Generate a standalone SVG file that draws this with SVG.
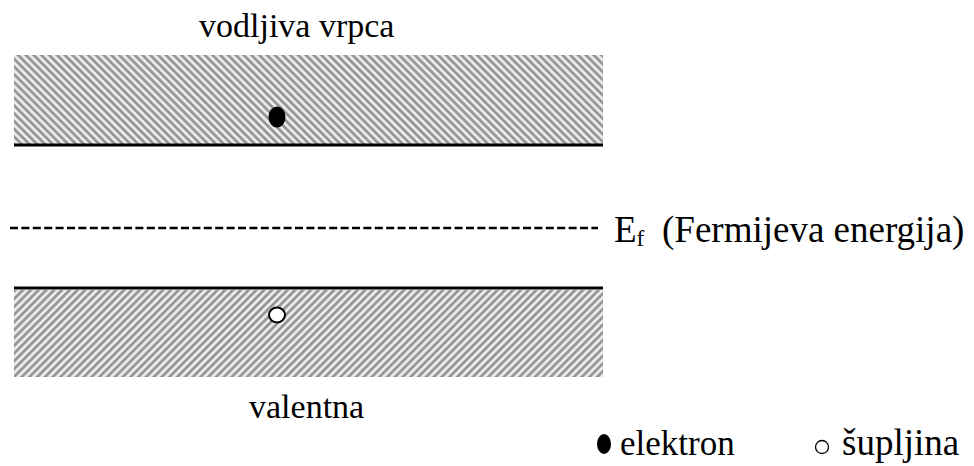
<svg xmlns="http://www.w3.org/2000/svg" width="974" height="466" viewBox="0 0 974 466">
<style>
.t{font-family:"Liberation Serif","Times New Roman",serif;font-size:34px;fill:#000}
.big{font-size:37px}
.sub{font-size:23px}
.edge{stroke:#000;stroke-width:3;fill:none}
</style>
<defs>
<pattern id="hatchA" patternUnits="userSpaceOnUse" width="5.5" height="10" patternTransform="rotate(-45)">
<rect width="5.5" height="10" fill="#eaeaea"/>
<rect width="2.7" height="10" fill="#959595"/>
</pattern>
<pattern id="hatchB" patternUnits="userSpaceOnUse" width="5.5" height="10" patternTransform="rotate(45)">
<rect width="5.5" height="10" fill="#eaeaea"/>
<rect width="2.7" height="10" fill="#959595"/>
</pattern>
</defs>
<g id="conduction-band">
<rect x="14" y="55" width="589" height="90" fill="url(#hatchA)"/>
<line class="edge" x1="14" y1="145" x2="603" y2="145"/>
<text class="t" x="199" y="37">vodljiva vrpca</text>
</g>
<g id="electron">
<ellipse cx="277" cy="117" rx="8.5" ry="10.5" fill="#000"/>
</g>
<g id="valence-band">
<line class="edge" x1="14" y1="288" x2="603" y2="288"/>
<rect x="14" y="290" width="589" height="87" fill="url(#hatchB)"/>
<text class="t" x="249" y="418">valentna</text>
</g>
<g id="hole">
<ellipse cx="277" cy="315" rx="8" ry="7.5" fill="#fff" stroke="#000" stroke-width="2"/>
</g>
<g id="connectors">
<line x1="10" y1="228" x2="598" y2="228" stroke="#000" stroke-width="2.5" stroke-dasharray="8 3.4"/>
</g>
<g id="fermi-label">
<text class="t big" x="614" y="242">E<tspan class="sub" dy="4">f</tspan><tspan dy="-4" x="662">(Fermijeva energija)</tspan></text>
</g>
<g id="legend">
<ellipse cx="604" cy="444" rx="7" ry="10" fill="#000"/>
<text class="t" x="620" y="455" style="font-size:35px">elektron</text>
<circle cx="822" cy="447" r="6.5" fill="none" stroke="#000" stroke-width="1.3"/>
<text class="t big" x="842" y="455">šupljina</text>
</g>
</svg>
